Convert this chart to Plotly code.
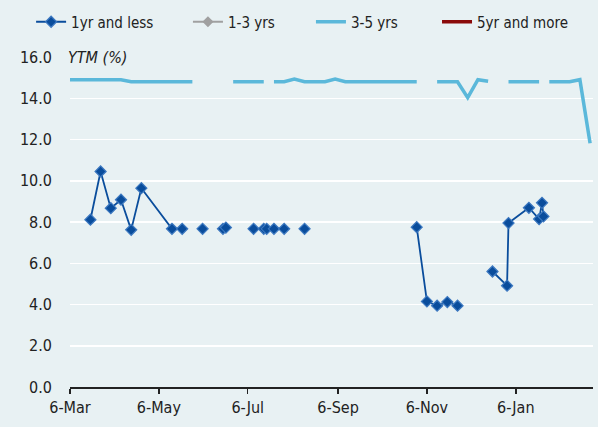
import plotly.graph_objects as go

# ---- data ----
dates_1yr = ["2015-03-20", "2015-03-27", "2015-04-03", "2015-04-10", "2015-04-17", "2015-04-24",
             "2015-05-15", "2015-05-22", "2015-05-29",
             "2015-06-05", "2015-06-12",
             "2015-06-19", "2015-06-21", "2015-07-01",
             "2015-07-10", "2015-07-17", "2015-07-19", "2015-07-24", "2015-07-31", "2015-08-07",
             "2015-08-14", "2015-09-01",
             "2015-10-30", "2015-11-06", "2015-11-13", "2015-11-20", "2015-11-27", "2015-12-10",
             "2015-12-21", "2015-12-31", "2016-01-01", "2016-01-15", "2016-01-22", "2016-01-24", "2016-01-25"]
ytm_1yr = [8.11, 10.45, 8.67, 9.08, 7.62, 9.64,
           7.67, 7.67, None,
           7.67, None,
           7.67, 7.73, None,
           7.67, 7.67, 7.67, 7.67, 7.67, None,
           7.67, None,
           7.75, 4.15, 3.94, 4.12, 3.94, None,
           5.60, 4.91, 7.95, 8.69, 8.14, 8.93, 8.27]

# no observations visible for these two tenors
dates_1_3 = ["2015-03-06"]
ytm_1_3 = [None]

dates_3_5 = ["2015-03-06", "2015-03-13", "2015-03-20", "2015-03-27", "2015-04-03", "2015-04-10",
             "2015-04-17", "2015-04-24", "2015-05-01", "2015-05-08", "2015-05-15", "2015-05-22", "2015-05-29",
             "2015-06-14",
             "2015-06-26", "2015-07-03", "2015-07-10", "2015-07-17",
             "2015-07-20",
             "2015-07-24", "2015-07-31", "2015-08-07", "2015-08-14", "2015-08-21", "2015-08-28",
             "2015-09-04", "2015-09-11", "2015-09-18", "2015-09-25", "2015-10-02", "2015-10-09",
             "2015-10-16", "2015-10-23", "2015-10-30",
             "2015-11-06",
             "2015-11-13", "2015-11-20", "2015-11-27", "2015-12-04", "2015-12-11", "2015-12-18",
             "2015-12-25",
             "2016-01-01", "2016-01-08", "2016-01-15", "2016-01-22",
             "2016-01-25",
             "2016-01-29", "2016-02-05", "2016-02-12", "2016-02-19", "2016-02-26"]
ytm_3_5 = [14.9, 14.9, 14.9, 14.9, 14.9, 14.9,
           14.8, 14.8, 14.8, 14.8, 14.8, 14.8, 14.8,
           None,
           14.8, 14.8, 14.8, 14.8,
           None,
           14.8, 14.8, 14.93, 14.8, 14.8, 14.8,
           14.93, 14.8, 14.8, 14.8, 14.8, 14.8,
           14.8, 14.8, 14.8,
           None,
           14.8, 14.8, 14.8, 14.03, 14.9, 14.82,
           None,
           14.8, 14.8, 14.8, 14.8,
           None,
           14.8, 14.8, 14.8, 14.9, 11.82]

dates_5_plus = ["2015-03-06"]
ytm_5_plus = [None]

tick_dates = ["2015-03-06", "2015-05-06", "2015-07-06", "2015-09-06", "2015-11-06", "2016-01-06"]
tick_labels = ["6-Mar", "6-May", "6-Jul", "6-Sep", "6-Nov", "6-Jan"]
x_range = ["2015-03-06", "2016-02-28"]

# ---- style ----
BG = "#E8F1F3"
FONT = "Liberation Sans Narrow, DejaVu Sans Condensed, Liberation Sans, Arial, sans-serif"
FS = 16
LFS = 15
LEG_Y = 1 - 22 / 427


def legend_box(x, **extra):
    d = dict(orientation="h", xref="container", yref="container", x=x, y=LEG_Y,
             xanchor="left", yanchor="middle", bgcolor="rgba(0,0,0,0)",
             font=dict(family=FONT, size=LFS, color="#222"))
    d.update(extra)
    return d


fig = go.Figure()
fig.add_trace(go.Scatter(
    x=dates_1yr, y=ytm_1yr, name="1yr and less", mode="lines+markers",
    line=dict(color="#0A4D9C", width=1.8),
    marker=dict(symbol="diamond", size=8.5, color="#0A4D9C", line=dict(color="#3C78C0", width=1.2)),
    connectgaps=False, legend="legend"))
fig.add_trace(go.Scatter(
    x=dates_1_3, y=ytm_1_3, name="1-3 yrs", mode="lines+markers",
    line=dict(color="#A0A0A0", width=1.8),
    marker=dict(symbol="diamond", size=8.5, color="#A0A0A0"), legend="legend2"))
fig.add_trace(go.Scatter(
    x=dates_3_5, y=ytm_3_5, name="3-5 yrs", mode="lines",
    line=dict(color="#5BB8DA", width=3.5), connectgaps=False, legend="legend2"))
fig.add_trace(go.Scatter(
    x=dates_5_plus, y=ytm_5_plus, name="5yr and more", mode="lines",
    line=dict(color="#8A0A0A", width=3.5), legend="legend3"))

fig.add_annotation(
    text="<i>YTM (%)</i>", xref="paper", x=0, xanchor="left", xshift=-6,
    yref="y", y=16, yanchor="middle", showarrow=False, bgcolor=BG, borderpad=3,
    font=dict(family=FONT, size=FS, color="#222"))

fig.update_layout(
    width=598, height=427,
    paper_bgcolor=BG, plot_bgcolor=BG,
    margin=dict(l=70, r=5, t=57, b=40, autoexpand=False),
    font=dict(family=FONT, size=FS, color="#222"),
    hovermode=False,
    showlegend=True,
    legend=legend_box(0.052),
    legend2=legend_box(0.3143, entrywidth=78, entrywidthmode="pixels"),
    legend3=legend_box(0.7308),
    xaxis=dict(type="date", range=x_range, tickvals=tick_dates, ticktext=tick_labels,
               showgrid=False, zeroline=False, showline=True, linecolor="#222", linewidth=1.5,
               ticks="outside", ticklen=5, tickwidth=1.5, tickcolor="#222", automargin=False),
    yaxis=dict(range=[0, 16], dtick=2, tickformat=".1f", showgrid=True, gridcolor="white",
               gridwidth=1.5, zeroline=False, showline=False, ticks="", ticklabelstandoff=17,
               automargin=False),
)

fig.write_html("out.html", config={"displayModeBar": False, "staticPlot": True},
               post_script="document.body.style.margin='0';document.body.style.background='%s';" % BG)
